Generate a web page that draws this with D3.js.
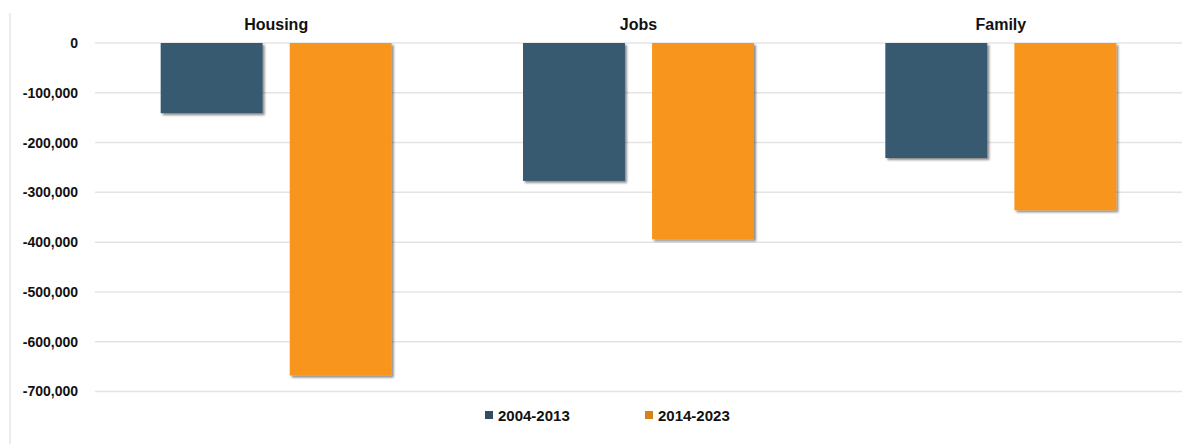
<!DOCTYPE html>
<html>
<head>
<meta charset="utf-8">
<script src="https://cdn.jsdelivr.net/npm/d3@7"></script>
<style>
    body {margin: 0; background: #fff;}
    text {font-family: Arial, "Liberation Sans", sans-serif; font-weight: bold; fill: #111;}
</style>
</head>
<body>
<div id="chart"></div>
<script>
const categories = ["Housing", "Jobs", "Family"];
const series = ["2004-2013", "2014-2023"];
const values2004 = [-141000, -277000, -231000];
const values2014 = [-668000, -394000, -336000];
const yTicks = [0, -100000, -200000, -300000, -400000, -500000, -600000, -700000];
const colors = ["#385a70", "#f8951d"];

const W = 1186, H = 444;
const margin = {top: 43, right: 4, bottom: 52, left: 95},
    width = W - margin.left - margin.right,
    height = H - margin.top - margin.bottom;

const data = categories.map((c, i) => ({
    key: c,
    values: [
        {key: series[0], value: values2004[i]},
        {key: series[1], value: values2014[i]}
    ]
}));

// plain hyphen for negatives, like the original
const locale = d3.formatLocale({decimal: ".", thousands: ",", grouping: [3], currency: ["$", ""], minus: "-"});

const svgEl = d3.select("#chart").append("svg")
    .attr("width", W)
    .attr("height", H);

// soft shadow like the original bars
const defs = svgEl.append("defs");
const f = defs.append("filter").attr("id", "shadow")
    .attr("x", "-5%").attr("y", "-5%").attr("width", "115%").attr("height", "115%");
f.append("feDropShadow")
    .attr("dx", 2).attr("dy", 2).attr("stdDeviation", 1.2)
    .attr("flood-color", "#000").attr("flood-opacity", 0.45);

// faint frame line on the left
svgEl.append("line")
    .attr("x1", 10).attr("x2", 10).attr("y1", 13).attr("y2", H)
    .attr("stroke", "#ececec").attr("stroke-width", 2);

const svg = svgEl.append("g")
    .attr("transform", "translate(" + margin.left + "," + margin.top + ")");

const x0 = d3.scaleBand()
    .domain(categories)
    .range([0, width]);

const groupW = 231;
const x1 = d3.scaleBand()
    .domain(series)
    .range([(x0.bandwidth() - groupW) / 2, (x0.bandwidth() + groupW) / 2])
    .paddingInner(0.21);

const y = d3.scaleLinear()
    .domain([0, -700000])
    .range([0, 348.5]);

const color = d3.scaleOrdinal().domain(series).range(colors);

// gridlines
svg.append("g")
    .selectAll("line")
    .data(yTicks)
    .enter().append("line")
    .attr("x1", 0).attr("x2", width)
    .attr("y1", d => y(d)).attr("y2", d => y(d))
    .attr("stroke", "#e4e4e4")
    .attr("stroke-width", 1.5);

// y axis labels
const yAxis = d3.axisLeft(y)
    .tickValues(yTicks)
    .tickSize(0)
    .tickPadding(17)
    .tickFormat(locale.format(",d"));

svg.append("g")
    .attr("class", "y")
    .call(yAxis)
    .call(g => g.select(".domain").remove())
    .selectAll("text")
    .style("font-size", "14px")
    .style("font-family", "Arial, 'Liberation Sans', sans-serif")
    .style("font-weight", "bold")
    .attr("fill", "#111");

const slice = svg.selectAll(".slice")
    .data(data)
    .enter().append("g")
    .attr("class", "slice")
    .attr("transform", d => "translate(" + x0(d.key) + ",0)");

slice.selectAll("rect")
    .data(d => d.values)
    .enter().append("rect")
    .attr("x", d => x1(d.key))
    .attr("width", x1.bandwidth())
    .attr("y", y(0))
    .attr("height", d => y(d.value) - y(0))
    .attr("fill", d => color(d.key))
    .attr("filter", "url(#shadow)");

// category labels on top
slice.append("text")
    .attr("x", x0.bandwidth() / 2)
    .attr("y", -13)
    .attr("text-anchor", "middle")
    .style("font-size", "16px")
    .text(d => d.key);

// legend
const legendX = [485, 645];
const legend = svgEl.append("g")
    .selectAll("g")
    .data(series)
    .enter().append("g")
    .attr("transform", (d, i) => "translate(" + legendX[i] + ",411)");

legend.append("rect")
    .attr("width", 8).attr("height", 8)
    .attr("fill", d => d3.rgb(color(d)).darker(0.4));

legend.append("text")
    .attr("x", 13)
    .attr("y", 9.5)
    .style("font-size", "15px")
    .text(d => d);
</script>
</body>
</html>
